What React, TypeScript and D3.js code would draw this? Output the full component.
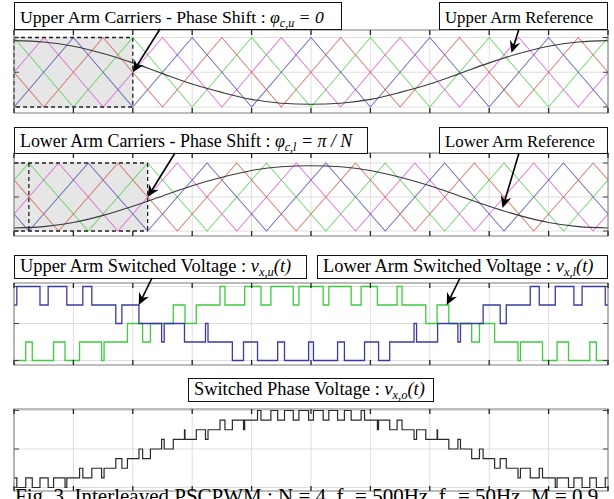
import * as d3 from "d3";

const W = 614;
const H = 499;

// time axis in ms (one fundamental period)
const tickTimes = [0, 2, 4, 6, 8, 10, 12, 14, 16, 18, 20];

// carrier vertex times (ms)
const upperT = [0, 1, 2, 3, 4, 5, 6, 7, 8, 9, 10, 11, 12, 13, 14, 15, 16, 17, 18, 19, 20];
const lowerT = [0, 0.5, 1.5, 2.5, 3.5, 4.5, 5.5, 6.5, 7.5, 8.5, 9.5, 10.5, 11.5, 12.5, 13.5, 14.5, 15.5, 16.5, 17.5, 18.5, 19.5, 20];

// upper arm carriers, value at each upperT
const upperGreen = [1, .5, 0, .5, 1, .5, 0, .5, 1, .5, 0, .5, 1, .5, 0, .5, 1, .5, 0, .5, 1];
const upperMagenta = [.5, 1, .5, 0, .5, 1, .5, 0, .5, 1, .5, 0, .5, 1, .5, 0, .5, 1, .5, 0, .5];
const upperBlue = [0, .5, 1, .5, 0, .5, 1, .5, 0, .5, 1, .5, 0, .5, 1, .5, 0, .5, 1, .5, 0];
const upperRed = [.5, 0, .5, 1, .5, 0, .5, 1, .5, 0, .5, 1, .5, 0, .5, 1, .5, 0, .5, 1, .5];

// lower arm carriers (shifted by pi/N), value at each lowerT
const lowerGreen = [.75, 1, .5, 0, .5, 1, .5, 0, .5, 1, .5, 0, .5, 1, .5, 0, .5, 1, .5, 0, .5, .75];
const lowerMagenta = [.25, .5, 1, .5, 0, .5, 1, .5, 0, .5, 1, .5, 0, .5, 1, .5, 0, .5, 1, .5, 0, .25];
const lowerBlue = [.25, 0, .5, 1, .5, 0, .5, 1, .5, 0, .5, 1, .5, 0, .5, 1, .5, 0, .5, 1, .5, .25];
const lowerRed = [.75, .5, 0, .5, 1, .5, 0, .5, 1, .5, 0, .5, 1, .5, 0, .5, 1, .5, 0, .5, 1, .75];

// references, sampled every ms
const refT = upperT;
const refUpper = [0.955, 0.935, 0.875, 0.77, 0.635, 0.48, 0.33, 0.21, 0.11, 0.055, 0.04, 0.055, 0.11, 0.21, 0.33, 0.48, 0.635, 0.77, 0.875, 0.935, 0.955];
const refLower = [0.045, 0.065, 0.125, 0.23, 0.365, 0.515, 0.665, 0.79, 0.89, 0.945, 0.96, 0.945, 0.89, 0.79, 0.665, 0.515, 0.365, 0.23, 0.125, 0.065, 0.045];

const CARRIER_COLORS = { green: "#55d055", magenta: "#dc5cd2", blue: "#5050b0", red: "#d06454" };

const x = d3.scaleLinear().domain([0, 20]).range([14, 608]);

const panels = {
  p1: { top: 30, bottom: 113, y: d3.scaleLinear().domain([0, 1]).range([107, 37.5]), yTicks: [0, 0.5, 1] },
  p2: { top: 153, bottom: 236, y: d3.scaleLinear().domain([0, 1]).range([231, 163]), yTicks: [0, 0.5, 1] },
  p3: { top: 283, bottom: 365, y: d3.scaleLinear().domain([0, 4]).range([360.5, 286.5]), yTicks: [0, 2, 4] },
  p4: { top: 409, bottom: 491, y: d3.scaleLinear().domain([-4, 4]).range([487.5, 410.5]), yTicks: [-4, 0, 4] },
};

type Fn = (t: number) => number;

const pw = (ts: number[], vs: number[]): Fn => d3.scaleLinear().domain(ts).range(vs);

const upFns = [upperGreen, upperMagenta, upperBlue, upperRed].map(v => pw(upperT, v));
const loFns = [lowerGreen, lowerMagenta, lowerBlue, lowerRed].map(v => pw(lowerT, v));
const refU = pw(refT, refUpper);
const refL = pw(refT, refLower);

// count of inserted cells = carriers below the reference
const STEPS = 8000;
function levels(fns: Fn[], ref: Fn) {
  const out: number[] = [];
  for (let i = 0; i <= STEPS; i++) {
    const t = (i * 20) / STEPS;
    const r = ref(t);
    out.push(fns.filter(f => f(t) < r).length);
  }
  return out;
}
function toSteps(vals: number[]) {
  const pts: [number, number][] = [];
  let prev: number | null = null;
  vals.forEach((v, i) => {
    if (v !== prev) { pts.push([(i * 20) / STEPS, v]); prev = v; }
  });
  pts.push([20, prev as number]);
  return pts;
}
const vu = levels(upFns, refU);
const vl = levels(loFns, refL);
const vo = vl.map((v, i) => v - vu[i]);

function Frame({ p }: { p: any }) {
  return (
    <g>
      <rect x={14} y={p.top} width={594} height={p.bottom - p.top} fill="#fff" />
      {tickTimes.map(t => (
        <line key={"gx" + t} x1={x(t)} x2={x(t)} y1={p.top} y2={p.bottom} stroke="#dedede" strokeWidth={1} />
      ))}
      {p.yTicks.map((v: number) => (
        <line key={"gy" + v} x1={14} x2={608} y1={p.y(v)} y2={p.y(v)} stroke="#dedede" strokeWidth={1} />
      ))}
    </g>
  );
}

function FrameTop({ p }: { p: any }) {
  return (
    <g>
      <rect x={14} y={p.top} width={594} height={p.bottom - p.top} fill="none" stroke="#7a7a7a" strokeWidth={1} />
      {tickTimes.map(t => (
        <g key={"t" + t}>
          <line x1={x(t)} x2={x(t)} y1={p.top} y2={p.top + 5} stroke="#222" strokeWidth={1.3} />
          <line x1={x(t)} x2={x(t)} y1={p.bottom} y2={p.bottom - 5} stroke="#222" strokeWidth={1.3} />
        </g>
      ))}
      {p.yTicks.map((v: number) => (
        <g key={"yt" + v}>
          <line x1={14} x2={19} y1={p.y(v)} y2={p.y(v)} stroke="#444" strokeWidth={1} />
          <line x1={608} x2={603} y1={p.y(v)} y2={p.y(v)} stroke="#444" strokeWidth={1} />
        </g>
      ))}
    </g>
  );
}

function Carriers({ p, ts, sets }: { p: any; ts: number[]; sets: [number[], string][] }) {
  const line = d3.line<number>().x((_, i) => x(ts[i])).y(v => p.y(v));
  return (
    <g>
      {sets.map(([vals, c], i) => (
        <path key={i} d={line(vals) || ""} fill="none" stroke={c} strokeWidth={1.1} strokeOpacity={0.8} />
      ))}
    </g>
  );
}

function Ref({ p, vals }: { p: any; vals: number[] }) {
  const line = d3.line<number>().x((_, i) => x(refT[i])).y(v => p.y(v)).curve(d3.curveMonotoneX);
  return <path d={line(vals) || ""} fill="none" stroke="#3a3a3a" strokeWidth={1.1} />;
}

function Steps({ p, vals, color, width = 1.3 }: { p: any; vals: number[]; color: string; width?: number }) {
  const line = d3.line<[number, number]>().x(d => x(d[0])).y(d => p.y(d[1])).curve(d3.curveStepAfter);
  return <path d={line(toSteps(vals)) || ""} fill="none" stroke={color} strokeWidth={width} />;
}

function Arrow({ x1, y1, x2, y2 }: { x1: number; y1: number; x2: number; y2: number }) {
  const a = Math.atan2(y2 - y1, x2 - x1);
  const L = 12, Wd = 5.5, notch = 4;
  const bx = x2 - L * Math.cos(a), by = y2 - L * Math.sin(a);
  const nx = x2 - (L - notch) * Math.cos(a), ny = y2 - (L - notch) * Math.sin(a);
  const px = -Math.sin(a), py = Math.cos(a);
  const pts = [
    [x2, y2],
    [bx + Wd * px, by + Wd * py],
    [nx, ny],
    [bx - Wd * px, by - Wd * py],
  ].map(d => d.join(",")).join(" ");
  return (
    <g>
      <line x1={x1} y1={y1} x2={nx} y2={ny} stroke="#000" strokeWidth={1.6} />
      <polygon points={pts} fill="#000" />
    </g>
  );
}

const FONT = "'Liberation Serif', 'Times New Roman', serif";

function Label({ x0, y0, w, h, size, children }: any) {
  return (
    <g>
      <rect x={x0 + 0.5} y={y0 + 0.5} width={w} height={h} fill="#fff" stroke="#111" strokeWidth={1} />
      <text x={x0 + 6} y={y0 + h - 6} fontFamily={FONT} fontSize={size} fill="#000">{children}</text>
    </g>
  );
}

export default function App() {
  const { p1, p2, p3, p4 } = panels;
  return (
    <svg width={W} height={H} style={{ position: "absolute", left: 0, top: 0, display: "block", background: "#fff" }}>
      {/* panel 1: upper carriers */}
      <Frame p={p1} />
      <rect x={x(0)} y={p1.y(1)} width={x(4) - x(0)} height={p1.y(0) - p1.y(1)} fill="#e6e6e6" />
      <Carriers p={p1} ts={upperT} sets={[[upperGreen, CARRIER_COLORS.green], [upperMagenta, CARRIER_COLORS.magenta], [upperBlue, CARRIER_COLORS.blue], [upperRed, CARRIER_COLORS.red]]} />
      <Ref p={p1} vals={refUpper} />
      <rect x={x(0)} y={p1.y(1)} width={x(4) - x(0)} height={p1.y(0) - p1.y(1)} fill="none" stroke="#222" strokeWidth={1.3} strokeDasharray="4,3" />
      <FrameTop p={p1} />

      {/* panel 2: lower carriers */}
      <Frame p={p2} />
      <rect x={x(0)} y={p2.y(1)} width={x(4.5) - x(0)} height={p2.y(0) - p2.y(1)} fill="#e6e6e6" />
      <Carriers p={p2} ts={lowerT} sets={[[lowerGreen, CARRIER_COLORS.green], [lowerMagenta, CARRIER_COLORS.magenta], [lowerBlue, CARRIER_COLORS.blue], [lowerRed, CARRIER_COLORS.red]]} />
      <Ref p={p2} vals={refLower} />
      <g fill="none" stroke="#222" strokeWidth={1.3} strokeDasharray="4,3">
        <line x1={x(0)} x2={x(4.5)} y1={p2.y(1)} y2={p2.y(1)} />
        <line x1={x(0)} x2={x(4.5)} y1={p2.y(0)} y2={p2.y(0)} />
        <line x1={x(0.5)} x2={x(0.5)} y1={p2.y(1)} y2={p2.y(0)} />
        <line x1={x(4.5)} x2={x(4.5)} y1={p2.y(1)} y2={p2.y(0)} />
      </g>
      <FrameTop p={p2} />

      {/* panel 3: arm switched voltages */}
      <Frame p={p3} />
      <Steps p={p3} vals={vl} color="#3fcb3f" />
      <Steps p={p3} vals={vu} color="#3b3ba6" />
      <FrameTop p={p3} />

      {/* panel 4: phase voltage */}
      <Frame p={p4} />
      <Steps p={p4} vals={vo} color="#2a2a2a" width={1.2} />
      <FrameTop p={p4} />

      {/* labels */}
      <Label x0={14} y0={2} w={327} h={27} size={17.7}>
        Upper Arm Carriers - Phase Shift : <tspan fontStyle="italic">φ</tspan>
        <tspan fontStyle="italic" fontSize={12} dy={4}>c,u</tspan>
        <tspan fontStyle="italic" dy={-4}> = 0</tspan>
      </Label>
      <Label x0={439} y0={2} w={168} h={27} size={16.8}>Upper Arm Reference</Label>
      <Arrow x1={160} y1={29} x2={x(4)} y2={p1.y(0.5)} />
      <Arrow x1={519} y1={29} x2={x(16.75)} y2={p1.y(0.78)} />

      <Label x0={14} y0={127} w={353} h={26} size={17.9}>
        Lower Arm Carriers - Phase Shift : <tspan fontStyle="italic">φ</tspan>
        <tspan fontStyle="italic" fontSize={12} dy={4}>c,l</tspan>
        <tspan fontStyle="italic" dy={-4}> = π / N</tspan>
      </Label>
      <Label x0={439} y0={127} w={168} h={26} size={16.8}>Lower Arm Reference</Label>
      <Arrow x1={175} y1={153} x2={x(4.5)} y2={p2.y(0.5)} />
      <Arrow x1={519} y1={153} x2={x(16.45)} y2={p2.y(0.34)} />

      <Label x0={14} y0={255} w={292} h={23} size={18.4}>
        Upper Arm Switched Voltage : <tspan fontStyle="italic">v</tspan>
        <tspan fontStyle="italic" fontSize={12.5} dy={4}>x,u</tspan>
        <tspan fontStyle="italic" dy={-4}>(t)</tspan>
      </Label>
      <Label x0={317} y0={255} w={290} h={23} size={18.4}>
        Lower Arm Switched Voltage : <tspan fontStyle="italic">v</tspan>
        <tspan fontStyle="italic" fontSize={12.5} dy={4}>x,l</tspan>
        <tspan fontStyle="italic" dy={-4}>(t)</tspan>
      </Label>
      <Arrow x1={152} y1={278} x2={x(4.2)} y2={p3.y(3)} />
      <Arrow x1={460} y1={278} x2={x(14.57)} y2={p3.y(3)} />

      <Label x0={188} y0={378} w={245} h={23} size={18.4}>
        Switched Phase Voltage : <tspan fontStyle="italic">v</tspan>
        <tspan fontStyle="italic" fontSize={12.5} dy={4}>x,o</tspan>
        <tspan fontStyle="italic" dy={-4}>(t)</tspan>
      </Label>

      <text x={15} y={503} fontFamily={FONT} fontSize={21} fill="#000">
        Fig. 3. Interleaved PSCPWM : N = 4, f<tspan fontSize={14} dy={3}>c</tspan><tspan dy={-3}> = 500Hz, f</tspan>
        <tspan fontSize={14} dy={3}>o</tspan><tspan dy={-3}> = 50Hz, M = 0.9</tspan>
      </text>
    </svg>
  );
}
